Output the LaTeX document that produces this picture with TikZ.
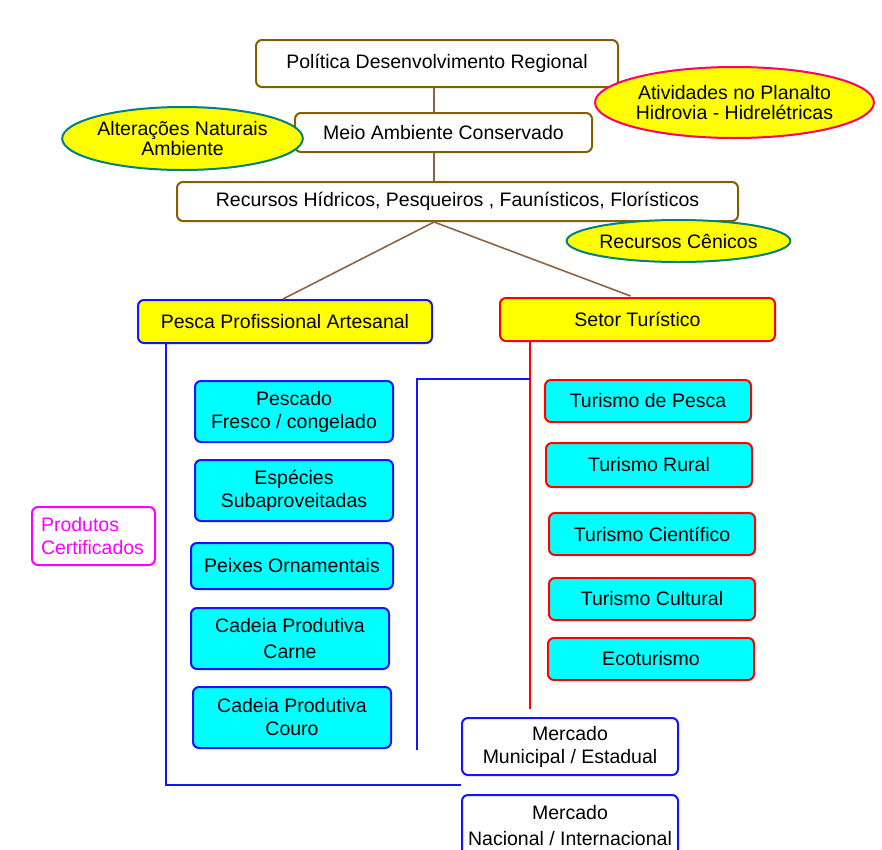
\documentclass[tikz,border=0pt]{standalone}
\usepackage{fontspec}
\setmainfont{Liberation Sans}
\usetikzlibrary{shapes.geometric,calc}
\definecolor{olive}{RGB}{128,96,0}
\definecolor{brownline}{RGB}{140,100,70}
\definecolor{tealb}{RGB}{0,128,128}
\definecolor{pinkred}{RGB}{255,0,102}
\definecolor{bblue}{RGB}{20,20,255}
\definecolor{yel}{RGB}{255,255,0}
\definecolor{cya}{RGB}{0,255,255}
\definecolor{mag}{RGB}{255,0,255}
\tikzset{
  base/.style={rounded corners=6pt, line width=2pt, inner sep=0pt, align=center,
    font=\fontsize{19.5}{23}\selectfont},
  topbox/.style={base, draw=olive, fill=white},
  ybox/.style={base, fill=yel},
  lbox/.style={base, draw=bblue, fill=cya},
  rbox/.style={base, draw=red, fill=cya},
  mbox/.style={base, draw=bblue, fill=white},
  ell/.style={ellipse, line width=2pt, fill=yel, inner sep=0pt, align=center,
    font=\fontsize{19.5}{20.5}\selectfont},
  brl/.style={draw=brownline, line width=1.6pt},
  bll/.style={draw=bblue, line width=2pt},
  rdl/.style={draw=red, line width=2pt},
}
\begin{document}
\begin{tikzpicture}[x=1pt,y=-1pt]
\useasboundingbox[fill=white] (0,0) rectangle (882,849);
% top boxes
\node[topbox, minimum width=362, minimum height=47] (pol) at (437,63.5) {Política Desenvolvimento Regional};
\node[topbox, minimum width=297, minimum height=39] (meio) at (443.5,132.5) {Meio Ambiente Conservado};
\node[topbox, minimum width=561, minimum height=39] (rec) at (457.5,201.5) {Recursos Hídricos, Pesqueiros , Faunísticos, Florísticos};
% ellipses
\node[ell, draw=pinkred, minimum width=255, minimum height=71] (ativ) at (734.5,102.5) {Atividades no Planalto\\Hidrovia - Hidrelétricas};
\node[ell, draw=tealb, minimum width=239, minimum height=63] (alt) at (182.5,138.5) {Alterações Naturais\\Ambiente};
\node[ell, draw=tealb, minimum width=217, minimum height=42] (cen) at (678.5,241) {Recursos Cênicos};
% second level
\node[ybox, draw=bblue, minimum width=294, minimum height=43] (pesca) at (285,321.5) {Pesca Profissional Artesanal};
\node[ybox, draw=red, minimum width=275, minimum height=43] (setor) at (637.5,319.5) {Setor Turístico};
% connectors top
\coordinate (v) at (434,0);
\draw[brl] (pol.south -| v) -- (meio.north -| v);
\draw[brl] (meio.south -| v) -- (rec.north -| v);
\coordinate (recb) at (rec.south -| v);
\draw[brl] (recb) -- ($(pesca.north)+(-2,0)$);
\draw[brl] (recb) -- ($(setor.north)+(-7,-1)$);
% lines
\node[mbox, minimum width=216, minimum height=57] (mm) at (570,746.5) {Mercado\\Municipal / Estadual};
\node[mbox, minimum width=216, minimum height=62, font=\fontsize{19.5}{26}\selectfont] (mn) at (570,826) {Mercado\\Nacional / Internacional};
\coordinate (pl) at ($(pesca.south west)+(29,0)$);
\draw[bll] (pl) |- ($(mm.south west)!0.5!(mn.north west)$);
\coordinate (rl) at ($(setor.south west)+(31,0)$);
\draw[rdl] (rl) -- ($(rl |- mm.north)+(0,-8)$);
\node[rbox, minimum width=206, minimum height=42] (tp) at (648,401) {Turismo de Pesca};
\coordinate (b2) at (417,750);
\draw[bll] (rl |- tp.north) -| (b2);
% left boxes
\node[lbox, minimum width=198, minimum height=61] (pesc) at (294,411.5) {Pescado\\Fresco / congelado};
\node[lbox, minimum width=198, minimum height=61] (esp) at (294,490.5) {Espécies\\Subaproveitadas};
\node[lbox, minimum width=202, minimum height=46] (peix) at (292,566) {Peixes Ornamentais};
\node[lbox, minimum width=198, minimum height=61, font=\fontsize{19.5}{26}\selectfont] (carne) at (290,638.5) {Cadeia Produtiva\\Carne};
\node[lbox, minimum width=198, minimum height=61] (couro) at (292,717.5) {Cadeia Produtiva\\Couro};
\node[base, draw=mag, text=mag, fill=white, minimum width=123, minimum height=58, align=left, text width=105] (prod) at (93.5,536) {Produtos\\Certificados};
% right boxes
\node[rbox, minimum width=206, minimum height=44] (tr) at (649,465) {Turismo Rural};
\node[rbox, minimum width=206, minimum height=42] (tc) at (652,534) {Turismo Científico};
\node[rbox, minimum width=206, minimum height=42] (tcu) at (652,599) {Turismo Cultural};
\node[rbox, minimum width=206, minimum height=42] (eco) at (651,659) {Ecoturismo};
\end{tikzpicture}
\end{document}
